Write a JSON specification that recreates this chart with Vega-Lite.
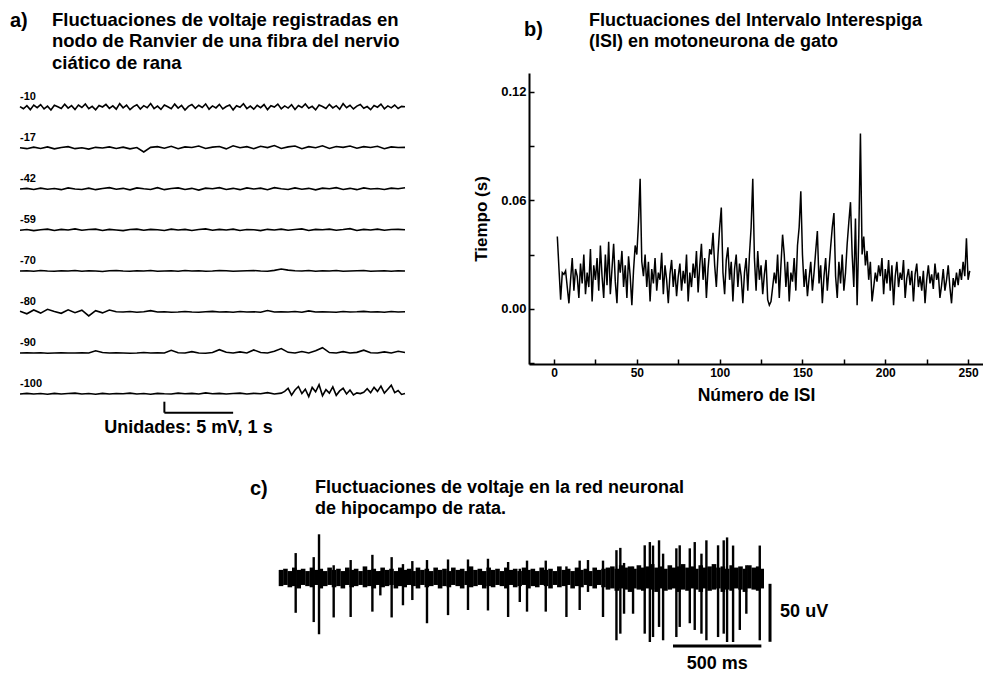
{
  "$schema": "https://vega.github.io/schema/vega-lite/v6.json",
  "background": "white",
  "padding": {"left": 10, "top": 10, "right": 0, "bottom": 0},
  "config": {
    "font": "Liberation Sans",
    "view": {"stroke": null},
    "title": {"font": "Liberation Sans", "fontSize": 20, "fontWeight": "bold", "color": "black", "anchor": "start", "frame": "group",
      "subtitleFont": "Liberation Sans", "subtitleFontSize": 18, "subtitleFontWeight": "bold", "subtitleColor": "black", "subtitleLineHeight": 21.5},
    "axis": {"labelColor": "black", "titleColor": "black", "domainColor": "black", "tickColor": "black", "labelFont": "Liberation Sans", "titleFont": "Liberation Sans", "labelFontWeight": "bold", "titleFontWeight": "bold", "grid": false},
    "header": {"labelFont": "Liberation Sans", "labelFontSize": 11, "labelFontWeight": "bold", "labelColor": "black", "labelAnchor": "start", "labelPadding": -29}
  },
  "datasets": {
    "ranvier": [
      {"k":"-10","t":0,"v":0.2},{"k":"-10","t":0.05,"v":-0.8},{"k":"-10","t":0.1,"v":0.6},{"k":"-10","t":0.15,"v":-1.2},{"k":"-10","t":0.2,"v":0.9},{"k":"-10","t":0.25,"v":-0.3},{"k":"-10","t":0.3,"v":1.1},{"k":"-10","t":0.35,"v":-0.9},{"k":"-10","t":0.4,"v":0.4},{"k":"-10","t":0.45,"v":-1.4},
      {"k":"-10","t":0.5,"v":0.8},{"k":"-10","t":0.55,"v":0.1},{"k":"-10","t":0.6,"v":-0.7},{"k":"-10","t":0.65,"v":1.3},{"k":"-10","t":0.7,"v":-0.5},{"k":"-10","t":0.75,"v":0.6},{"k":"-10","t":0.8,"v":-1.1},{"k":"-10","t":0.85,"v":0.9},{"k":"-10","t":0.9,"v":-0.2},{"k":"-10","t":0.95,"v":1.4},
      {"k":"-10","t":1.0,"v":-0.8},{"k":"-10","t":1.05,"v":0.3},{"k":"-10","t":1.1,"v":-1.3},{"k":"-10","t":1.15,"v":0.7},{"k":"-10","t":1.2,"v":0.0},{"k":"-10","t":1.25,"v":1.2},{"k":"-10","t":1.3,"v":-0.6},{"k":"-10","t":1.35,"v":0.5},{"k":"-10","t":1.4,"v":-1.0},{"k":"-10","t":1.45,"v":1.5},
      {"k":"-10","t":1.5,"v":-0.4},{"k":"-10","t":1.55,"v":0.8},{"k":"-10","t":1.6,"v":-1.2},{"k":"-10","t":1.65,"v":0.2},{"k":"-10","t":1.7,"v":1.0},{"k":"-10","t":1.75,"v":-0.9},{"k":"-10","t":1.8,"v":0.6},{"k":"-10","t":1.85,"v":-0.3},{"k":"-10","t":1.9,"v":1.6},{"k":"-10","t":1.95,"v":-0.7},
      {"k":"-10","t":2.0,"v":0.4},{"k":"-10","t":2.05,"v":-1.1},{"k":"-10","t":2.1,"v":0.9},{"k":"-10","t":2.15,"v":0.1},{"k":"-10","t":2.2,"v":-0.8},{"k":"-10","t":2.25,"v":1.3},{"k":"-10","t":2.3,"v":-0.5},{"k":"-10","t":2.35,"v":0.7},{"k":"-10","t":2.4,"v":-1.4},{"k":"-10","t":2.45,"v":0.3},
      {"k":"-10","t":2.5,"v":1.1},{"k":"-10","t":2.55,"v":-0.6},{"k":"-10","t":2.6,"v":0.8},{"k":"-10","t":2.65,"v":-0.2},{"k":"-10","t":2.7,"v":1.4},{"k":"-10","t":2.75,"v":-1.0},{"k":"-10","t":2.8,"v":0.5},{"k":"-10","t":2.85,"v":-0.4},{"k":"-10","t":2.9,"v":1.2},{"k":"-10","t":2.95,"v":-0.9},
      {"k":"-10","t":3.0,"v":0.2},{"k":"-10","t":3.05,"v":0.9},{"k":"-10","t":3.1,"v":-1.3},{"k":"-10","t":3.15,"v":0.6},{"k":"-10","t":3.2,"v":-0.1},{"k":"-10","t":3.25,"v":1.5},{"k":"-10","t":3.3,"v":-0.7},{"k":"-10","t":3.35,"v":0.4},{"k":"-10","t":3.4,"v":-1.0},{"k":"-10","t":3.45,"v":0.8},
      {"k":"-10","t":3.5,"v":-0.3},{"k":"-10","t":3.55,"v":1.1},{"k":"-10","t":3.6,"v":-1.2},{"k":"-10","t":3.65,"v":0.6},{"k":"-10","t":3.7,"v":0.0},{"k":"-10","t":3.75,"v":1.3},{"k":"-10","t":3.8,"v":-0.8},{"k":"-10","t":3.85,"v":0.5},{"k":"-10","t":3.9,"v":-0.5},{"k":"-10","t":3.95,"v":1.0},
      {"k":"-10","t":4.0,"v":-1.1},{"k":"-10","t":4.05,"v":0.7},{"k":"-10","t":4.1,"v":-0.2},{"k":"-10","t":4.15,"v":1.4},{"k":"-10","t":4.2,"v":-0.6},{"k":"-10","t":4.25,"v":0.3},{"k":"-10","t":4.3,"v":-1.3},{"k":"-10","t":4.35,"v":0.9},{"k":"-10","t":4.4,"v":0.2},{"k":"-10","t":4.45,"v":-0.7},
      {"k":"-10","t":4.5,"v":1.2},{"k":"-10","t":4.55,"v":-0.4},{"k":"-10","t":4.6,"v":0.6},{"k":"-10","t":4.65,"v":-1.0},{"k":"-10","t":4.7,"v":1.5},{"k":"-10","t":4.75,"v":-0.3},{"k":"-10","t":4.8,"v":0.8},{"k":"-10","t":4.85,"v":-0.9},{"k":"-10","t":4.9,"v":0.4},{"k":"-10","t":4.95,"v":1.1},
      {"k":"-10","t":5.0,"v":-0.6},{"k":"-10","t":5.05,"v":0.2},{"k":"-10","t":5.1,"v":-1.2},{"k":"-10","t":5.15,"v":0.7},{"k":"-10","t":5.2,"v":-0.1},{"k":"-10","t":5.25,"v":1.3},{"k":"-10","t":5.3,"v":-0.8},{"k":"-10","t":5.35,"v":0.5},{"k":"-10","t":5.4,"v":-0.4},{"k":"-10","t":5.45,"v":0.9},
      {"k":"-10","t":5.5,"v":-0.7},{"k":"-10","t":5.55,"v":0.3},{"k":"-10","t":5.6,"v":0.1},

      {"k":"-17","t":0,"v":0.1},{"k":"-17","t":0.1,"v":-0.3},{"k":"-17","t":0.2,"v":0.4},{"k":"-17","t":0.3,"v":-0.2},{"k":"-17","t":0.4,"v":0.5},{"k":"-17","t":0.5,"v":-0.4},{"k":"-17","t":0.6,"v":0.2},{"k":"-17","t":0.7,"v":0.6},{"k":"-17","t":0.8,"v":-0.3},{"k":"-17","t":0.9,"v":0.1},
      {"k":"-17","t":1.0,"v":-0.5},{"k":"-17","t":1.1,"v":0.3},{"k":"-17","t":1.2,"v":0.0},{"k":"-17","t":1.3,"v":0.5},{"k":"-17","t":1.4,"v":-0.2},{"k":"-17","t":1.5,"v":0.4},{"k":"-17","t":1.6,"v":-0.4},{"k":"-17","t":1.7,"v":0.2},{"k":"-17","t":1.8,"v":-1.8},{"k":"-17","t":1.9,"v":0.3},
      {"k":"-17","t":2.0,"v":0.6},{"k":"-17","t":2.1,"v":-0.1},{"k":"-17","t":2.2,"v":0.8},{"k":"-17","t":2.3,"v":-0.3},{"k":"-17","t":2.4,"v":0.5},{"k":"-17","t":2.5,"v":0.2},{"k":"-17","t":2.6,"v":0.9},{"k":"-17","t":2.7,"v":-0.2},{"k":"-17","t":2.8,"v":0.4},{"k":"-17","t":2.9,"v":0.7},
      {"k":"-17","t":3.0,"v":-0.4},{"k":"-17","t":3.1,"v":1.0},{"k":"-17","t":3.2,"v":0.1},{"k":"-17","t":3.3,"v":0.6},{"k":"-17","t":3.4,"v":-0.3},{"k":"-17","t":3.5,"v":0.8},{"k":"-17","t":3.6,"v":0.2},{"k":"-17","t":3.7,"v":1.1},{"k":"-17","t":3.8,"v":-0.2},{"k":"-17","t":3.9,"v":0.5},
      {"k":"-17","t":4.0,"v":0.9},{"k":"-17","t":4.1,"v":-0.3},{"k":"-17","t":4.2,"v":0.6},{"k":"-17","t":4.3,"v":0.1},{"k":"-17","t":4.4,"v":1.0},{"k":"-17","t":4.5,"v":-0.2},{"k":"-17","t":4.6,"v":0.7},{"k":"-17","t":4.7,"v":0.3},{"k":"-17","t":4.8,"v":0.9},{"k":"-17","t":4.9,"v":-0.1},
      {"k":"-17","t":5.0,"v":0.6},{"k":"-17","t":5.1,"v":0.2},{"k":"-17","t":5.2,"v":0.8},{"k":"-17","t":5.3,"v":-0.3},{"k":"-17","t":5.4,"v":0.5},{"k":"-17","t":5.5,"v":0.2},{"k":"-17","t":5.6,"v":0.3},

      {"k":"-42","t":0,"v":0.0},{"k":"-42","t":0.1,"v":0.3},{"k":"-42","t":0.2,"v":-0.2},{"k":"-42","t":0.3,"v":0.4},{"k":"-42","t":0.4,"v":-0.1},{"k":"-42","t":0.5,"v":0.2},{"k":"-42","t":0.6,"v":-0.3},{"k":"-42","t":0.7,"v":0.5},{"k":"-42","t":0.8,"v":0.0},{"k":"-42","t":0.9,"v":-0.2},
      {"k":"-42","t":1.0,"v":0.4},{"k":"-42","t":1.1,"v":-0.3},{"k":"-42","t":1.2,"v":0.2},{"k":"-42","t":1.3,"v":0.6},{"k":"-42","t":1.4,"v":-0.1},{"k":"-42","t":1.5,"v":0.3},{"k":"-42","t":1.6,"v":-0.4},{"k":"-42","t":1.7,"v":0.5},{"k":"-42","t":1.8,"v":0.1},{"k":"-42","t":1.9,"v":-0.2},
      {"k":"-42","t":2.0,"v":0.6},{"k":"-42","t":2.1,"v":-0.3},{"k":"-42","t":2.2,"v":0.2},{"k":"-42","t":2.3,"v":0.5},{"k":"-42","t":2.4,"v":-0.2},{"k":"-42","t":2.5,"v":0.3},{"k":"-42","t":2.6,"v":-0.5},{"k":"-42","t":2.7,"v":0.4},{"k":"-42","t":2.8,"v":0.1},{"k":"-42","t":2.9,"v":0.6},
      {"k":"-42","t":3.0,"v":-0.2},{"k":"-42","t":3.1,"v":0.3},{"k":"-42","t":3.2,"v":-0.3},{"k":"-42","t":3.3,"v":0.5},{"k":"-42","t":3.4,"v":0.0},{"k":"-42","t":3.5,"v":0.4},{"k":"-42","t":3.6,"v":-0.3},{"k":"-42","t":3.7,"v":0.6},{"k":"-42","t":3.8,"v":0.1},{"k":"-42","t":3.9,"v":-0.2},
      {"k":"-42","t":4.0,"v":0.5},{"k":"-42","t":4.1,"v":-0.1},{"k":"-42","t":4.2,"v":0.3},{"k":"-42","t":4.3,"v":-0.4},{"k":"-42","t":4.4,"v":0.4},{"k":"-42","t":4.5,"v":0.1},{"k":"-42","t":4.6,"v":0.6},{"k":"-42","t":4.7,"v":-0.2},{"k":"-42","t":4.8,"v":0.3},{"k":"-42","t":4.9,"v":-0.3},
      {"k":"-42","t":5.0,"v":0.5},{"k":"-42","t":5.1,"v":0.0},{"k":"-42","t":5.2,"v":0.2},{"k":"-42","t":5.3,"v":-0.2},{"k":"-42","t":5.4,"v":0.4},{"k":"-42","t":5.5,"v":0.1},{"k":"-42","t":5.6,"v":0.6},

      {"k":"-59","t":0,"v":-0.1},{"k":"-59","t":0.1,"v":0.2},{"k":"-59","t":0.2,"v":-0.3},{"k":"-59","t":0.3,"v":0.1},{"k":"-59","t":0.4,"v":0.4},{"k":"-59","t":0.5,"v":-0.2},{"k":"-59","t":0.6,"v":0.3},{"k":"-59","t":0.7,"v":0.0},{"k":"-59","t":0.8,"v":0.5},{"k":"-59","t":0.9,"v":-0.1},
      {"k":"-59","t":1.0,"v":0.2},{"k":"-59","t":1.1,"v":0.4},{"k":"-59","t":1.2,"v":-0.2},{"k":"-59","t":1.3,"v":0.3},{"k":"-59","t":1.4,"v":0.0},{"k":"-59","t":1.5,"v":-0.3},{"k":"-59","t":1.6,"v":0.2},{"k":"-59","t":1.7,"v":0.4},{"k":"-59","t":1.8,"v":-0.1},{"k":"-59","t":1.9,"v":0.3},
      {"k":"-59","t":2.0,"v":0.1},{"k":"-59","t":2.1,"v":-0.2},{"k":"-59","t":2.2,"v":0.4},{"k":"-59","t":2.3,"v":0.0},{"k":"-59","t":2.4,"v":0.3},{"k":"-59","t":2.5,"v":-0.2},{"k":"-59","t":2.6,"v":0.2},{"k":"-59","t":2.7,"v":0.5},{"k":"-59","t":2.8,"v":-0.1},{"k":"-59","t":2.9,"v":0.3},
      {"k":"-59","t":3.0,"v":0.0},{"k":"-59","t":3.1,"v":0.4},{"k":"-59","t":3.2,"v":-0.2},{"k":"-59","t":3.3,"v":0.2},{"k":"-59","t":3.4,"v":0.1},{"k":"-59","t":3.5,"v":-0.3},{"k":"-59","t":3.6,"v":0.3},{"k":"-59","t":3.7,"v":0.0},{"k":"-59","t":3.8,"v":0.4},{"k":"-59","t":3.9,"v":-0.1},
      {"k":"-59","t":4.0,"v":0.2},{"k":"-59","t":4.1,"v":0.5},{"k":"-59","t":4.2,"v":-0.2},{"k":"-59","t":4.3,"v":0.3},{"k":"-59","t":4.4,"v":0.1},{"k":"-59","t":4.5,"v":0.4},{"k":"-59","t":4.6,"v":-0.1},{"k":"-59","t":4.7,"v":0.2},{"k":"-59","t":4.8,"v":0.6},{"k":"-59","t":4.9,"v":-0.2},
      {"k":"-59","t":5.0,"v":0.3},{"k":"-59","t":5.1,"v":0.0},{"k":"-59","t":5.2,"v":0.4},{"k":"-59","t":5.3,"v":-0.1},{"k":"-59","t":5.4,"v":0.2},{"k":"-59","t":5.5,"v":0.3},{"k":"-59","t":5.6,"v":0.1},

      {"k":"-70","t":0,"v":0.0},{"k":"-70","t":0.1,"v":0.1},{"k":"-70","t":0.2,"v":-0.1},{"k":"-70","t":0.3,"v":0.2},{"k":"-70","t":0.4,"v":0.0},{"k":"-70","t":0.5,"v":-0.1},{"k":"-70","t":0.6,"v":0.1},{"k":"-70","t":0.7,"v":0.0},{"k":"-70","t":0.8,"v":0.2},{"k":"-70","t":0.9,"v":-0.1},
      {"k":"-70","t":1.0,"v":0.1},{"k":"-70","t":1.1,"v":0.0},{"k":"-70","t":1.2,"v":-0.2},{"k":"-70","t":1.3,"v":0.1},{"k":"-70","t":1.4,"v":0.2},{"k":"-70","t":1.5,"v":0.0},{"k":"-70","t":1.6,"v":-0.1},{"k":"-70","t":1.7,"v":0.1},{"k":"-70","t":1.8,"v":0.0},{"k":"-70","t":1.9,"v":0.2},
      {"k":"-70","t":2.0,"v":-0.1},{"k":"-70","t":2.1,"v":0.0},{"k":"-70","t":2.2,"v":0.1},{"k":"-70","t":2.3,"v":-0.1},{"k":"-70","t":2.4,"v":0.2},{"k":"-70","t":2.5,"v":0.0},{"k":"-70","t":2.6,"v":0.1},{"k":"-70","t":2.7,"v":-0.1},{"k":"-70","t":2.8,"v":0.0},{"k":"-70","t":2.9,"v":0.2},
      {"k":"-70","t":3.0,"v":0.1},{"k":"-70","t":3.1,"v":-0.1},{"k":"-70","t":3.2,"v":0.0},{"k":"-70","t":3.3,"v":0.1},{"k":"-70","t":3.4,"v":0.2},{"k":"-70","t":3.5,"v":0.0},{"k":"-70","t":3.6,"v":-0.1},{"k":"-70","t":3.7,"v":0.3},{"k":"-70","t":3.8,"v":0.9},{"k":"-70","t":3.9,"v":0.4},
      {"k":"-70","t":4.0,"v":0.1},{"k":"-70","t":4.1,"v":0.0},{"k":"-70","t":4.2,"v":0.2},{"k":"-70","t":4.3,"v":-0.1},{"k":"-70","t":4.4,"v":0.1},{"k":"-70","t":4.5,"v":0.0},{"k":"-70","t":4.6,"v":0.2},{"k":"-70","t":4.7,"v":-0.1},{"k":"-70","t":4.8,"v":0.0},{"k":"-70","t":4.9,"v":0.1},
      {"k":"-70","t":5.0,"v":0.2},{"k":"-70","t":5.1,"v":-0.1},{"k":"-70","t":5.2,"v":0.0},{"k":"-70","t":5.3,"v":0.1},{"k":"-70","t":5.4,"v":-0.1},{"k":"-70","t":5.5,"v":0.1},{"k":"-70","t":5.6,"v":0.0},

      {"k":"-80","t":0,"v":0.3},{"k":"-80","t":0.1,"v":-0.8},{"k":"-80","t":0.2,"v":0.9},{"k":"-80","t":0.3,"v":-0.5},{"k":"-80","t":0.4,"v":1.2},{"k":"-80","t":0.5,"v":0.2},{"k":"-80","t":0.6,"v":-0.6},{"k":"-80","t":0.7,"v":1.0},{"k":"-80","t":0.8,"v":-0.3},{"k":"-80","t":0.9,"v":0.8},
      {"k":"-80","t":1.0,"v":-1.8},{"k":"-80","t":1.1,"v":0.6},{"k":"-80","t":1.2,"v":-0.4},{"k":"-80","t":1.3,"v":0.9},{"k":"-80","t":1.4,"v":0.1},{"k":"-80","t":1.5,"v":0.0},{"k":"-80","t":1.6,"v":0.2},{"k":"-80","t":1.7,"v":-0.1},{"k":"-80","t":1.8,"v":0.1},{"k":"-80","t":1.9,"v":0.6},
      {"k":"-80","t":2.0,"v":0.0},{"k":"-80","t":2.1,"v":0.1},{"k":"-80","t":2.2,"v":-0.1},{"k":"-80","t":2.3,"v":0.0},{"k":"-80","t":2.4,"v":0.2},{"k":"-80","t":2.5,"v":0.0},{"k":"-80","t":2.6,"v":-0.1},{"k":"-80","t":2.7,"v":0.1},{"k":"-80","t":2.8,"v":0.3},{"k":"-80","t":2.9,"v":0.0},
      {"k":"-80","t":3.0,"v":0.1},{"k":"-80","t":3.1,"v":-0.1},{"k":"-80","t":3.2,"v":0.2},{"k":"-80","t":3.3,"v":0.0},{"k":"-80","t":3.4,"v":0.1},{"k":"-80","t":3.5,"v":-0.1},{"k":"-80","t":3.6,"v":0.7},{"k":"-80","t":3.7,"v":0.0},{"k":"-80","t":3.8,"v":0.1},{"k":"-80","t":3.9,"v":0.0},
      {"k":"-80","t":4.0,"v":0.2},{"k":"-80","t":4.1,"v":-0.1},{"k":"-80","t":4.2,"v":0.5},{"k":"-80","t":4.3,"v":0.0},{"k":"-80","t":4.4,"v":0.1},{"k":"-80","t":4.5,"v":0.0},{"k":"-80","t":4.6,"v":-0.1},{"k":"-80","t":4.7,"v":0.2},{"k":"-80","t":4.8,"v":0.0},{"k":"-80","t":4.9,"v":0.1},
      {"k":"-80","t":5.0,"v":0.3},{"k":"-80","t":5.1,"v":0.0},{"k":"-80","t":5.2,"v":0.1},{"k":"-80","t":5.3,"v":-0.1},{"k":"-80","t":5.4,"v":0.2},{"k":"-80","t":5.5,"v":0.0},{"k":"-80","t":5.6,"v":0.1},

      {"k":"-90","t":0,"v":0.0},{"k":"-90","t":0.1,"v":0.1},{"k":"-90","t":0.2,"v":0.0},{"k":"-90","t":0.3,"v":0.1},{"k":"-90","t":0.4,"v":-0.1},{"k":"-90","t":0.5,"v":0.0},{"k":"-90","t":0.6,"v":0.1},{"k":"-90","t":0.7,"v":0.0},{"k":"-90","t":0.8,"v":0.0},{"k":"-90","t":0.9,"v":0.1},
      {"k":"-90","t":1.0,"v":0.0},{"k":"-90","t":1.1,"v":1.0},{"k":"-90","t":1.2,"v":0.2},{"k":"-90","t":1.3,"v":0.0},{"k":"-90","t":1.4,"v":0.1},{"k":"-90","t":1.5,"v":0.0},{"k":"-90","t":1.6,"v":-0.1},{"k":"-90","t":1.7,"v":0.0},{"k":"-90","t":1.8,"v":0.2},{"k":"-90","t":1.9,"v":0.0},
      {"k":"-90","t":2.0,"v":0.1},{"k":"-90","t":2.1,"v":0.0},{"k":"-90","t":2.2,"v":1.2},{"k":"-90","t":2.3,"v":0.1},{"k":"-90","t":2.4,"v":0.0},{"k":"-90","t":2.5,"v":0.6},{"k":"-90","t":2.6,"v":0.0},{"k":"-90","t":2.7,"v":-0.1},{"k":"-90","t":2.8,"v":0.2},{"k":"-90","t":2.9,"v":1.5},
      {"k":"-90","t":3.0,"v":0.3},{"k":"-90","t":3.1,"v":0.0},{"k":"-90","t":3.2,"v":0.5},{"k":"-90","t":3.3,"v":0.0},{"k":"-90","t":3.4,"v":1.4},{"k":"-90","t":3.5,"v":0.2},{"k":"-90","t":3.6,"v":0.0},{"k":"-90","t":3.7,"v":0.8},{"k":"-90","t":3.8,"v":2.0},{"k":"-90","t":3.9,"v":0.3},
      {"k":"-90","t":4.0,"v":0.0},{"k":"-90","t":4.1,"v":0.7},{"k":"-90","t":4.2,"v":0.0},{"k":"-90","t":4.3,"v":1.0},{"k":"-90","t":4.4,"v":2.4},{"k":"-90","t":4.5,"v":0.2},{"k":"-90","t":4.6,"v":0.0},{"k":"-90","t":4.7,"v":0.6},{"k":"-90","t":4.8,"v":0.0},{"k":"-90","t":4.9,"v":0.3},
      {"k":"-90","t":5.0,"v":1.3},{"k":"-90","t":5.1,"v":0.1},{"k":"-90","t":5.2,"v":0.0},{"k":"-90","t":5.3,"v":0.5},{"k":"-90","t":5.4,"v":0.0},{"k":"-90","t":5.5,"v":0.8},{"k":"-90","t":5.6,"v":0.2},

      {"k":"-100","t":0,"v":0.0},{"k":"-100","t":0.1,"v":0.3},{"k":"-100","t":0.2,"v":0.0},{"k":"-100","t":0.3,"v":0.2},{"k":"-100","t":0.4,"v":-0.1},{"k":"-100","t":0.5,"v":0.3},{"k":"-100","t":0.6,"v":0.0},{"k":"-100","t":0.7,"v":0.2},{"k":"-100","t":0.8,"v":0.4},{"k":"-100","t":0.9,"v":0.0},
      {"k":"-100","t":1.0,"v":0.2},{"k":"-100","t":1.1,"v":-0.1},{"k":"-100","t":1.2,"v":0.3},{"k":"-100","t":1.3,"v":0.0},{"k":"-100","t":1.4,"v":0.2},{"k":"-100","t":1.5,"v":0.1},{"k":"-100","t":1.6,"v":0.4},{"k":"-100","t":1.7,"v":0.0},{"k":"-100","t":1.8,"v":0.2},{"k":"-100","t":1.9,"v":-0.1},
      {"k":"-100","t":2.0,"v":0.3},{"k":"-100","t":2.1,"v":0.1},{"k":"-100","t":2.2,"v":0.0},{"k":"-100","t":2.3,"v":0.4},{"k":"-100","t":2.4,"v":0.1},{"k":"-100","t":2.5,"v":0.3},{"k":"-100","t":2.6,"v":0.0},{"k":"-100","t":2.7,"v":0.5},{"k":"-100","t":2.8,"v":0.1},{"k":"-100","t":2.9,"v":0.3},
      {"k":"-100","t":3.0,"v":0.0},{"k":"-100","t":3.1,"v":0.2},{"k":"-100","t":3.2,"v":0.4},{"k":"-100","t":3.3,"v":0.0},{"k":"-100","t":3.4,"v":0.3},{"k":"-100","t":3.5,"v":0.1},{"k":"-100","t":3.6,"v":0.6},{"k":"-100","t":3.7,"v":0.0},{"k":"-100","t":3.8,"v":0.4},
      {"k":"-100","t":3.85,"v":1.2},{"k":"-100","t":3.9,"v":2.6},{"k":"-100","t":3.95,"v":-0.5},{"k":"-100","t":4.0,"v":1.8},{"k":"-100","t":4.05,"v":3.4},{"k":"-100","t":4.1,"v":0.2},{"k":"-100","t":4.15,"v":2.2},{"k":"-100","t":4.2,"v":-1.2},{"k":"-100","t":4.25,"v":3.0},{"k":"-100","t":4.3,"v":1.0},
      {"k":"-100","t":4.35,"v":4.2},{"k":"-100","t":4.4,"v":-0.8},{"k":"-100","t":4.45,"v":2.0},{"k":"-100","t":4.5,"v":0.4},{"k":"-100","t":4.55,"v":3.2},{"k":"-100","t":4.6,"v":-0.6},{"k":"-100","t":4.65,"v":1.4},{"k":"-100","t":4.7,"v":2.6},{"k":"-100","t":4.75,"v":0.0},{"k":"-100","t":4.8,"v":1.8},
      {"k":"-100","t":4.85,"v":-0.4},{"k":"-100","t":4.9,"v":0.5},{"k":"-100","t":4.95,"v":0.2},{"k":"-100","t":5.0,"v":0.8},{"k":"-100","t":5.05,"v":2.4},{"k":"-100","t":5.1,"v":0.6},{"k":"-100","t":5.15,"v":3.0},{"k":"-100","t":5.2,"v":1.2},{"k":"-100","t":5.25,"v":3.6},{"k":"-100","t":5.3,"v":0.4},
      {"k":"-100","t":5.35,"v":2.2},{"k":"-100","t":5.4,"v":4.0},{"k":"-100","t":5.45,"v":0.6},{"k":"-100","t":5.5,"v":1.6},{"k":"-100","t":5.55,"v":-0.2},{"k":"-100","t":5.6,"v":0.2},

      {"k":"-100","kind":"bar","t":2.1,"t2":2.1,"v":-3.5,"v2":-8.5},
      {"k":"-100","kind":"bar","t":2.1,"t2":3.1,"v":-8.5,"v2":-8.5},
      {"k":"-100","kind":"label","t":2.45,"v":-15.5,"label":"Unidades: 5 mV, 1 s"}
    ],
    "isi": [
      {"n":2,"t":0.040},{"n":3,"t":0.022},{"n":4,"t":0.005},{"n":5,"t":0.020},{"n":6,"t":0.019},{"n":7,"t":0.021},{"n":8,"t":0.012},{"n":9,"t":0.003},{"n":10,"t":0.016},{"n":11,"t":0.028},
      {"n":12,"t":0.010},{"n":13,"t":0.022},{"n":14,"t":0.018},{"n":15,"t":0.006},{"n":16,"t":0.025},{"n":17,"t":0.014},{"n":18,"t":0.030},{"n":19,"t":0.008},{"n":20,"t":0.020},{"n":21,"t":0.012},
      {"n":22,"t":0.033},{"n":23,"t":0.004},{"n":24,"t":0.024},{"n":25,"t":0.016},{"n":26,"t":0.028},{"n":27,"t":0.010},{"n":28,"t":0.035},{"n":29,"t":0.018},{"n":30,"t":0.006},{"n":31,"t":0.030},
      {"n":32,"t":0.013},{"n":33,"t":0.037},{"n":34,"t":0.008},{"n":35,"t":0.022},{"n":36,"t":0.036},{"n":37,"t":0.015},{"n":38,"t":0.003},{"n":39,"t":0.027},{"n":40,"t":0.020},{"n":41,"t":0.032},
      {"n":42,"t":0.012},{"n":43,"t":0.024},{"n":44,"t":0.006},{"n":45,"t":0.029},{"n":46,"t":0.018},{"n":47,"t":0.002},{"n":48,"t":0.021},{"n":49,"t":0.035},{"n":50,"t":0.030},{"n":51,"t":0.048},
      {"n":52,"t":0.072},{"n":53,"t":0.026},{"n":54,"t":0.018},{"n":55,"t":0.030},{"n":56,"t":0.012},{"n":57,"t":0.026},{"n":58,"t":0.004},{"n":59,"t":0.022},{"n":60,"t":0.014},{"n":61,"t":0.028},
      {"n":62,"t":0.010},{"n":63,"t":0.020},{"n":64,"t":0.016},{"n":65,"t":0.031},{"n":66,"t":0.008},{"n":67,"t":0.024},{"n":68,"t":0.016},{"n":69,"t":0.003},{"n":70,"t":0.019},{"n":71,"t":0.027},
      {"n":72,"t":0.012},{"n":73,"t":0.022},{"n":74,"t":0.007},{"n":75,"t":0.018},{"n":76,"t":0.025},{"n":77,"t":0.010},{"n":78,"t":0.021},{"n":79,"t":0.014},{"n":80,"t":0.030},{"n":81,"t":0.004},
      {"n":82,"t":0.020},{"n":83,"t":0.012},{"n":84,"t":0.025},{"n":85,"t":0.017},{"n":86,"t":0.032},{"n":87,"t":0.009},{"n":88,"t":0.024},{"n":89,"t":0.036},{"n":90,"t":0.016},{"n":91,"t":0.028},
      {"n":92,"t":0.006},{"n":93,"t":0.022},{"n":94,"t":0.033},{"n":95,"t":0.030},{"n":96,"t":0.042},{"n":97,"t":0.024},{"n":98,"t":0.012},{"n":99,"t":0.030},{"n":100,"t":0.045},{"n":101,"t":0.056},
      {"n":102,"t":0.020},{"n":103,"t":0.008},{"n":104,"t":0.027},{"n":105,"t":0.034},{"n":106,"t":0.016},{"n":107,"t":0.026},{"n":108,"t":0.004},{"n":109,"t":0.022},{"n":110,"t":0.030},{"n":111,"t":0.012},
      {"n":112,"t":0.025},{"n":113,"t":0.018},{"n":114,"t":0.003},{"n":115,"t":0.020},{"n":116,"t":0.028},{"n":117,"t":0.010},{"n":118,"t":0.030},{"n":119,"t":0.045},{"n":120,"t":0.072},{"n":121,"t":0.028},
      {"n":122,"t":0.010},{"n":123,"t":0.032},{"n":124,"t":0.016},{"n":125,"t":0.024},{"n":126,"t":0.008},{"n":127,"t":0.019},{"n":128,"t":0.027},{"n":129,"t":0.005},{"n":130,"t":0.002},{"n":131,"t":0.004},
      {"n":132,"t":0.012},{"n":133,"t":0.020},{"n":134,"t":0.014},{"n":135,"t":0.030},{"n":136,"t":0.006},{"n":137,"t":0.024},{"n":138,"t":0.041},{"n":139,"t":0.030},{"n":140,"t":0.012},{"n":141,"t":0.026},
      {"n":142,"t":0.004},{"n":143,"t":0.020},{"n":144,"t":0.015},{"n":145,"t":0.028},{"n":146,"t":0.010},{"n":147,"t":0.035},{"n":148,"t":0.045},{"n":149,"t":0.065},{"n":150,"t":0.030},{"n":151,"t":0.012},
      {"n":152,"t":0.022},{"n":153,"t":0.007},{"n":154,"t":0.017},{"n":155,"t":0.026},{"n":156,"t":0.010},{"n":157,"t":0.020},{"n":158,"t":0.032},{"n":159,"t":0.043},{"n":160,"t":0.014},{"n":161,"t":0.024},
      {"n":162,"t":0.003},{"n":163,"t":0.018},{"n":164,"t":0.028},{"n":165,"t":0.010},{"n":166,"t":0.022},{"n":167,"t":0.034},{"n":168,"t":0.045},{"n":169,"t":0.053},{"n":170,"t":0.018},{"n":171,"t":0.006},
      {"n":172,"t":0.026},{"n":173,"t":0.014},{"n":174,"t":0.030},{"n":175,"t":0.010},{"n":176,"t":0.020},{"n":177,"t":0.036},{"n":178,"t":0.048},{"n":179,"t":0.059},{"n":180,"t":0.030},{"n":181,"t":0.012},
      {"n":182,"t":0.050},{"n":183,"t":0.002},{"n":184,"t":0.040},{"n":185,"t":0.097},{"n":186,"t":0.030},{"n":187,"t":0.040},{"n":188,"t":0.024},{"n":189,"t":0.032},{"n":190,"t":0.016},{"n":191,"t":0.026},
      {"n":192,"t":0.004},{"n":193,"t":0.012},{"n":194,"t":0.020},{"n":195,"t":0.015},{"n":196,"t":0.024},{"n":197,"t":0.018},{"n":198,"t":0.028},{"n":199,"t":0.008},{"n":200,"t":0.022},{"n":201,"t":0.014},
      {"n":202,"t":0.027},{"n":203,"t":0.010},{"n":204,"t":0.024},{"n":205,"t":0.002},{"n":206,"t":0.018},{"n":207,"t":0.026},{"n":208,"t":0.012},{"n":209,"t":0.020},{"n":210,"t":0.016},{"n":211,"t":0.027},
      {"n":212,"t":0.006},{"n":213,"t":0.017},{"n":214,"t":0.022},{"n":215,"t":0.013},{"n":216,"t":0.021},{"n":217,"t":0.004},{"n":218,"t":0.019},{"n":219,"t":0.025},{"n":220,"t":0.012},{"n":221,"t":0.018},
      {"n":222,"t":0.010},{"n":223,"t":0.021},{"n":224,"t":0.003},{"n":225,"t":0.016},{"n":226,"t":0.024},{"n":227,"t":0.014},{"n":228,"t":0.019},{"n":229,"t":0.011},{"n":230,"t":0.025},{"n":231,"t":0.016},
      {"n":232,"t":0.020},{"n":233,"t":0.006},{"n":234,"t":0.013},{"n":235,"t":0.022},{"n":236,"t":0.010},{"n":237,"t":0.016},{"n":238,"t":0.024},{"n":239,"t":0.012},{"n":240,"t":0.003},{"n":241,"t":0.017},
      {"n":242,"t":0.012},{"n":243,"t":0.020},{"n":244,"t":0.013},{"n":245,"t":0.022},{"n":246,"t":0.016},{"n":247,"t":0.026},{"n":248,"t":0.018},{"n":249,"t":0.039},{"n":250,"t":0.016},{"n":251,"t":0.021}
    ],
    "hippo": [
      {"t":0,"lo":-7,"hi":7},{"t":25,"lo":-6,"hi":8},{"t":50,"lo":-8,"hi":6},{"t":75,"lo":-7,"hi":9},{"t":100,"lo":-9,"hi":7},{"t":125,"lo":-6,"hi":8},{"t":150,"lo":-7,"hi":6},{"t":175,"lo":-8,"hi":9},{"t":200,"lo":-6,"hi":7},{"t":225,"lo":-9,"hi":8},
      {"t":250,"lo":-7,"hi":6},{"t":275,"lo":-6,"hi":9},{"t":300,"lo":-8,"hi":7},{"t":325,"lo":-7,"hi":8},{"t":350,"lo":-9,"hi":6},{"t":375,"lo":-6,"hi":9},{"t":400,"lo":-8,"hi":7},{"t":425,"lo":-7,"hi":8},{"t":450,"lo":-6,"hi":6},{"t":475,"lo":-8,"hi":10},
      {"t":500,"lo":-7,"hi":7},{"t":525,"lo":-9,"hi":8},{"t":550,"lo":-6,"hi":6},{"t":575,"lo":-8,"hi":9},{"t":600,"lo":-7,"hi":7},{"t":625,"lo":-6,"hi":8},{"t":650,"lo":-9,"hi":6},{"t":675,"lo":-7,"hi":9},{"t":700,"lo":-8,"hi":7},{"t":725,"lo":-6,"hi":8},
      {"t":750,"lo":-7,"hi":6},{"t":775,"lo":-9,"hi":9},{"t":800,"lo":-6,"hi":7},{"t":825,"lo":-8,"hi":8},{"t":850,"lo":-7,"hi":6},{"t":875,"lo":-6,"hi":9},{"t":900,"lo":-9,"hi":7},{"t":925,"lo":-7,"hi":8},{"t":950,"lo":-8,"hi":6},{"t":975,"lo":-6,"hi":9},
      {"t":1000,"lo":-7,"hi":7},{"t":1025,"lo":-9,"hi":8},{"t":1050,"lo":-6,"hi":6},{"t":1075,"lo":-8,"hi":10},{"t":1100,"lo":-7,"hi":7},{"t":1125,"lo":-6,"hi":8},{"t":1150,"lo":-9,"hi":6},{"t":1175,"lo":-7,"hi":9},{"t":1200,"lo":-8,"hi":7},{"t":1225,"lo":-6,"hi":8},
      {"t":1250,"lo":-7,"hi":6},{"t":1275,"lo":-9,"hi":9},{"t":1300,"lo":-6,"hi":7},{"t":1325,"lo":-8,"hi":8},{"t":1350,"lo":-7,"hi":6},{"t":1375,"lo":-6,"hi":9},{"t":1400,"lo":-9,"hi":7},{"t":1425,"lo":-7,"hi":8},{"t":1450,"lo":-8,"hi":6},{"t":1475,"lo":-6,"hi":9},
      {"t":1500,"lo":-7,"hi":7},{"t":1525,"lo":-9,"hi":8},{"t":1550,"lo":-6,"hi":6},{"t":1575,"lo":-8,"hi":10},{"t":1600,"lo":-7,"hi":7},{"t":1625,"lo":-6,"hi":8},{"t":1650,"lo":-9,"hi":6},{"t":1675,"lo":-7,"hi":9},{"t":1700,"lo":-8,"hi":7},{"t":1725,"lo":-6,"hi":8},
      {"t":1750,"lo":-7,"hi":6},{"t":1775,"lo":-9,"hi":9},{"t":1800,"lo":-6,"hi":7},{"t":1825,"lo":-8,"hi":8},{"t":1850,"lo":-10,"hi":9},{"t":1875,"lo":-9,"hi":10},{"t":1900,"lo":-11,"hi":8},{"t":1925,"lo":-9,"hi":11},{"t":1950,"lo":-10,"hi":9},{"t":1975,"lo":-12,"hi":10},
      {"t":2000,"lo":-9,"hi":8},{"t":2025,"lo":-10,"hi":11},{"t":2050,"lo":-11,"hi":9},{"t":2075,"lo":-9,"hi":10},{"t":2100,"lo":-10,"hi":12},{"t":2125,"lo":-12,"hi":9},{"t":2150,"lo":-9,"hi":10},{"t":2175,"lo":-11,"hi":8},{"t":2200,"lo":-10,"hi":11},{"t":2225,"lo":-9,"hi":9},
      {"t":2250,"lo":-12,"hi":10},{"t":2275,"lo":-10,"hi":12},{"t":2300,"lo":-11,"hi":9},{"t":2325,"lo":-9,"hi":10},{"t":2350,"lo":-10,"hi":8},{"t":2375,"lo":-12,"hi":11},{"t":2400,"lo":-9,"hi":9},{"t":2425,"lo":-11,"hi":10},{"t":2450,"lo":-10,"hi":12},{"t":2475,"lo":-9,"hi":9},
      {"t":2500,"lo":-12,"hi":10},{"t":2525,"lo":-10,"hi":8},{"t":2550,"lo":-11,"hi":11},{"t":2575,"lo":-9,"hi":9},{"t":2600,"lo":-10,"hi":10},{"t":2625,"lo":-12,"hi":8},{"t":2650,"lo":-9,"hi":11},{"t":2675,"lo":-10,"hi":9},{"t":2700,"lo":-11,"hi":10},{"t":2720,"lo":-9,"hi":8},

      {"k":"s","t":83,"lo":-30,"hi":21.5},{"k":"s","t":185,"lo":-38,"hi":18},{"k":"s","t":215,"lo":-48.5,"hi":37.7},{"k":"s","t":298,"lo":-34,"hi":11},{"k":"s","t":394,"lo":-33.6,"hi":15.5},
      {"k":"s","t":517,"lo":-29,"hi":20},{"k":"s","t":562,"lo":-15,"hi":6},{"k":"s","t":626,"lo":-34,"hi":18},{"k":"s","t":690,"lo":-23.5,"hi":12},{"k":"s","t":743,"lo":-19,"hi":14.6},
      {"k":"s","t":826,"lo":-39,"hi":15.5},{"k":"s","t":945,"lo":-32,"hi":16},{"k":"s","t":1058,"lo":-27.6,"hi":16},{"k":"s","t":1171,"lo":-28,"hi":16.6},{"k":"s","t":1285,"lo":-33.6,"hi":13.8},
      {"k":"s","t":1351,"lo":-20.7,"hi":8},{"k":"s","t":1392,"lo":-29,"hi":15},{"k":"s","t":1498,"lo":-29,"hi":15},{"k":"s","t":1615,"lo":-33.6,"hi":10},{"k":"s","t":1690,"lo":-27.6,"hi":15},
      {"k":"s","t":1737,"lo":-12,"hi":15.5},{"k":"s","t":1822,"lo":-33.6,"hi":15},{"k":"s","t":1898,"lo":-53.7,"hi":24},{"k":"s","t":1920,"lo":-48,"hi":26},{"k":"s","t":1941,"lo":-30.8,"hi":13},
      {"k":"s","t":1992,"lo":-30.8,"hi":10},{"k":"s","t":2058,"lo":-48,"hi":28.2},{"k":"s","t":2087,"lo":-55.2,"hi":31},{"k":"s","t":2105,"lo":-50.9,"hi":28},{"k":"s","t":2139,"lo":-42.2,"hi":32.5},
      {"k":"s","t":2162,"lo":-53.7,"hi":21},{"k":"s","t":2237,"lo":-50.9,"hi":25.6},{"k":"s","t":2256,"lo":-42.2,"hi":28.2},{"k":"s","t":2313,"lo":-39,"hi":25.6},{"k":"s","t":2341,"lo":-44.8,"hi":31},
      {"k":"s","t":2379,"lo":-48,"hi":21},{"k":"s","t":2407,"lo":-53.7,"hi":32.5},{"k":"s","t":2473,"lo":-50.9,"hi":28.2},{"k":"s","t":2505,"lo":-48,"hi":32.5},{"k":"s","t":2524,"lo":-55.2,"hi":35},
      {"k":"s","t":2558,"lo":-55.2,"hi":28},{"k":"s","t":2596,"lo":-44.8,"hi":9},{"k":"s","t":2633,"lo":-30.8,"hi":11},{"k":"s","t":2709,"lo":-53.7,"hi":28},

      {"k":"bar","t":2767,"t2":2767,"lo":-55,"hi":-5},
      {"k":"bar","t":2218,"t2":2718,"lo":-58.6,"hi":-58.6},
      {"k":"label","t":2960,"lo":-29.3,"label":"50 uV"},
      {"k":"label","t":2468,"lo":-74.5,"label":"500 ms"}
    ]
  },
  "vconcat": [
    {
      "hconcat": [
        {
          "data": {"name": "ranvier"},
          "title": {"text": "a)", "dx": -10, "offset": 1, "subtitlePadding": -20, "subtitleFontSize": 18.5,
            "subtitle": ["\u2800\u2800\u2800Fluctuaciones de voltaje registradas en", "\u2800\u2800\u2800nodo de Ranvier de una fibra del nervio", "\u2800\u2800\u2800ciático de rana"]},
          "facet": {"field": "k", "type": "nominal", "title": null, "sort": ["-10", "-17", "-42", "-59", "-70", "-80", "-90", "-100"]},
          "columns": 1,
          "spacing": 0,
          "bounds": "flush",
          "spec": {
            "width": 385,
            "height": 40.4,
            "layer": [
              {
                "transform": [{"filter": "!datum.kind"}],
                "mark": {"type": "line", "color": "black", "strokeWidth": 1.6},
                "encoding": {
                  "x": {"field": "t", "type": "quantitative", "scale": {"domain": [0, 5.6], "nice": false, "zero": false}, "axis": null},
                  "y": {"field": "v", "type": "quantitative", "scale": {"domain": [-2.91, 15.45], "nice": false, "zero": false}, "axis": null}
                }
              },
              {
                "transform": [{"filter": "datum.kind == 'bar'"}],
                "mark": {"type": "rule", "color": "black", "strokeWidth": 2},
                "encoding": {
                  "x": {"field": "t", "type": "quantitative"},
                  "x2": {"field": "t2"},
                  "y": {"field": "v", "type": "quantitative"},
                  "y2": {"field": "v2"}
                }
              },
              {
                "transform": [{"filter": "datum.kind == 'label'"}],
                "mark": {"type": "text", "color": "black", "fontSize": 18, "fontWeight": "bold", "font": "Liberation Sans", "align": "center", "baseline": "middle"},
                "encoding": {
                  "x": {"field": "t", "type": "quantitative"},
                  "y": {"field": "v", "type": "quantitative"},
                  "text": {"field": "label"}
                }
              }
            ]
          }
        },
        {
          "data": {"name": "isi"},
          "width": 454,
          "height": 291,
          "title": {"text": "b)", "dx": -5, "offset": 14, "subtitlePadding": -28,
            "subtitle": ["\u2800\u2800\u2800\u2800\u2800Fluctuaciones del Intervalo Interespiga", "\u2800\u2800\u2800\u2800\u2800(ISI) en motoneurona de gato"]},
          "mark": {"type": "line", "color": "black", "strokeWidth": 1.5},
          "encoding": {
            "x": {"field": "n", "type": "quantitative", "scale": {"domain": [-15.1, 259], "nice": false, "zero": false},
              "axis": {"title": "Número de ISI", "titleFontSize": 17.5, "titlePadding": 8, "values": [0, 25, 50, 75, 100, 125, 150, 175, 200, 225, 250], "format": "d",
                "labelExpr": "datum.value % 50 == 0 ? datum.label : ''", "labelFontSize": 12, "labelPadding": 8, "tickSize": -5, "tickWidth": 1.5, "domainWidth": 2}},
            "y": {"field": "t", "type": "quantitative", "scale": {"domain": [-0.0306, 0.1305], "nice": false, "zero": false},
              "axis": {"title": "Tiempo (s)", "titleFontSize": 17, "titlePadding": 10, "values": [-0.03, 0, 0.03, 0.06, 0.09, 0.12], "format": ".2f",
                "labelExpr": "(datum.label == '0.00' || datum.label == '0.06' || datum.label == '0.12') ? datum.label : ''", "labelFontSize": 13, "labelPadding": 8, "tickSize": -5, "tickWidth": 1.5, "domainWidth": 2}}
          }
        }
      ],
      "spacing": 63
    },
    {
      "data": {"name": "hippo"},
      "width": 820,
      "height": 154,
      "title": {"text": "c)", "dx": 230, "offset": 4, "subtitlePadding": -20,
        "subtitle": ["\u2800\u2800\u2800\u2800\u2800Fluctuaciones de voltaje en la red neuronal", "\u2800\u2800\u2800\u2800\u2800de hipocampo de rata."]},
      "layer": [
        {
          "transform": [{"filter": "!datum.k"}],
          "mark": {"type": "rule", "color": "black", "strokeWidth": 4.6},
          "encoding": {
            "x": {"field": "t", "type": "quantitative", "scale": {"domain": [-1477, 3163], "nice": false, "zero": false}, "axis": null},
            "y": {"field": "lo", "type": "quantitative", "scale": {"domain": [-84.5, 48.3], "nice": false, "zero": false}, "axis": null},
            "y2": {"field": "hi"}
          }
        },
        {
          "transform": [{"filter": "datum.k == 's'"}],
          "mark": {"type": "rule", "color": "black", "strokeWidth": 2.4},
          "encoding": {
            "x": {"field": "t", "type": "quantitative"},
            "y": {"field": "lo", "type": "quantitative"},
            "y2": {"field": "hi"}
          }
        },
        {
          "transform": [{"filter": "datum.k == 'bar'"}],
          "mark": {"type": "rule", "color": "black", "strokeWidth": 3},
          "encoding": {
            "x": {"field": "t", "type": "quantitative"},
            "x2": {"field": "t2"},
            "y": {"field": "lo", "type": "quantitative"},
            "y2": {"field": "hi"}
          }
        },
        {
          "transform": [{"filter": "datum.k == 'label'"}],
          "mark": {"type": "text", "color": "black", "fontSize": 18, "fontWeight": "bold", "font": "Liberation Sans", "align": "center", "baseline": "middle"},
          "encoding": {
            "x": {"field": "t", "type": "quantitative"},
            "y": {"field": "lo", "type": "quantitative"},
            "text": {"field": "label"}
          }
        }
      ]
    }
  ],
  "spacing": 40
}
